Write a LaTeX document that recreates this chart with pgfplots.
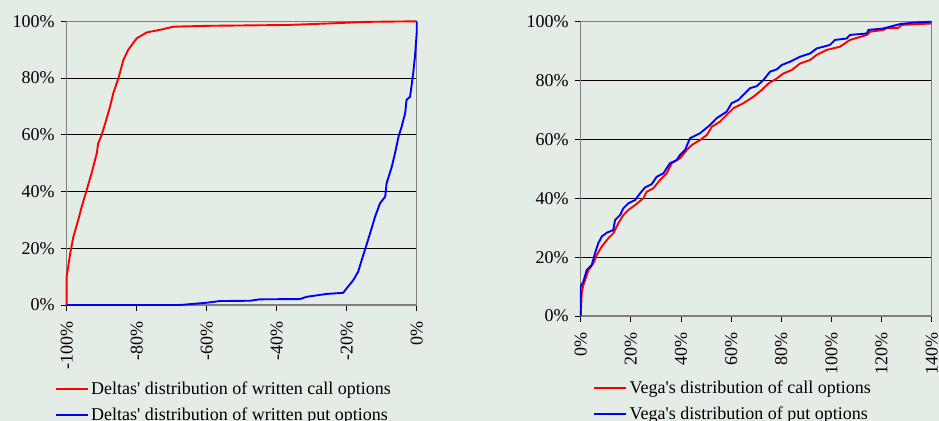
\documentclass[border=0pt]{standalone}
\usepackage{fontspec}
\setmainfont{Liberation Serif}
\usepackage{pgfplots}
\pgfplotsset{compat=1.18}
\definecolor{bg}{RGB}{228,236,230}
\definecolor{framec}{RGB}{128,128,128}
\begin{document}
\fontsize{18bp}{21bp}\selectfont
\begin{tikzpicture}
\useasboundingbox (0bp,0bp) rectangle (939bp,421bp);
\fill[bg] (0bp,0bp) rectangle (939bp,421bp);
\pgfplotsset{
 common/.style={
  scale only axis, clip=false,
  /pgf/number format/assume math mode=true,
  tick label style={font=\fontsize{18bp}{20bp}\selectfont},
  axis line style={draw=framec, line width=1.2bp},
  ymajorgrids, major grid style={black, line width=0.8bp},
  tick align=outside, major tick length=6bp, tick style={black, line width=0.8bp},
  xtick pos=bottom, ytick pos=left,
  ymin=0, ymax=100, ytick={0,20,...,100},
  yticklabel={\pgfmathprintnumber{\tick}\%},
  xticklabel={\pgfmathprintnumber{\tick}\%},
  x tick label style={rotate=90, anchor=east},
  xticklabel shift=4bp,
  legend cell align=left,
  legend image code/.code={\draw[##1, line width=2.2bp] (0bp,0bp) -- (32bp,0bp);},
  legend style={font=\fontsize{18bp}{20bp}\selectfont, draw=none, fill=none, inner sep=0pt,
    nodes={inner sep=2.5bp}, row sep=5.5bp, anchor=north west},
 }
}
\begin{axis}[common, at={(66.7bp,116bp)}, anchor=south west, width=350bp, height=283.7bp,
  xmin=-100, xmax=0, xtick={-100,-80,...,0},
  legend style={at={(axis description cs:-0.0357,-0.2606)}}]
\addplot[red, line width=1.9bp] coordinates {
(-100,0) (-100,10) (-99.0,18.2) (-98.1,24) (-96.7,30) (-95.7,34.7) (-94.3,40.5)
(-92.9,46.4) (-91.4,53.5) (-91,57) (-90,60) (-89,64) (-87.6,70) (-86.7,74.6)
(-85.2,80) (-83.8,86.4) (-82.4,90) (-80,94) (-77.1,96.1) (-73.3,97) (-69.5,98.1)
(-60,98.4) (-37,98.7) (-23.8,99.3) (-14.3,99.8) (0,100)};
\addlegendentry{Deltas\textquotesingle\ distribution of written call options}
\addplot[blue, line width=1.9bp] coordinates {
(-100,0) (-67.6,0) (-60,0.8) (-56.2,1.4) (-47.6,1.5) (-44.8,2) (-33.3,2.1)
(-31.4,2.9) (-25.7,3.9) (-21,4.3) (-20,5.9) (-18.1,8.8) (-16.7,11.8) (-15.7,15.9)
(-14.8,19.4) (-13.3,25.3) (-11.9,31.1) (-10.5,35.8) (-9,38.2) (-8.6,42.9)
(-7.1,48.8) (-6.2,53.5) (-5.2,59.3) (-4.3,62.9) (-3.3,67.6) (-2.9,72.3)
(-1.9,73.4) (-1,81.7) (-0.5,87.5) (0,95.8) (0,100)};
\addlegendentry{Deltas\textquotesingle\ distribution of written put options}
\end{axis}
\begin{axis}[common, at={(580.7bp,105bp)}, anchor=south west, width=351bp, height=294.3bp,
  xmin=0, xmax=140, xtick={0,20,...,140},
  legend style={at={(axis description cs:0.0343,-0.21)}}]
\addplot[red, line width=1.9bp] coordinates {
(0,0) (0.4,7.7) (1.06,10.5) (3.1,15.6) (5.05,17.9) (6.4,20.7) (8.4,23.6) (11.0,26.4)
(13.0,28.1) (15.0,31.5) (17.0,34.3) (19.0,36) (21.7,37.7) (25.0,40) (26.3,42.2)
(29.0,43.4) (31.6,46.2) (34.3,48.5) (36.3,51.9) (39.6,53.6) (42.3,56.4) (44.3,58.1)
(47.6,59.8) (50.3,61.5) (52.3,64.3) (55.5,66) (58.9,68.9) (60.9,70.6) (64.9,72.3)
(68.9,74.5) (72.2,76.8) (74.9,79) (78.2,80.7) (80.8,82.4) (84.2,83.6) (87.5,85.8)
(91.5,87) (94.1,88.7) (98.1,90.4) (103.4,91.5) (107.4,93.8) (114.1,95.5) (115.4,96.6)
(120.7,97.2) (122.0,97.8) (126.6,97.9) (128.0,98.9) (140,99.4)};
\addlegendentry{Vega\textquotesingle s distribution of call options}
\addplot[blue, line width=1.9bp] coordinates {
(0,0) (0,10) (1.06,11.7) (2.4,15.6) (4.4,17.3) (5.7,21.3) (7.0,24.7) (8.4,27)
(10.4,28.3) (13.0,29.2) (13.7,32.6) (15.7,34.3) (17.0,36.6) (19.0,38.3) (21.7,39.4)
(23.7,41.7) (25.7,43.7) (28.3,44.8) (30.3,47.3) (33.0,48.5) (35.6,51.9) (38.3,53)
(39.6,54.7) (41.6,56.4) (43.6,60.4) (47.6,62.1) (51.6,64.9) (54.2,67.2) (58.2,69.4)
(60.2,72.3) (62.9,73.4) (67.5,77.4) (70.2,78.1) (72.9,80.2) (75.5,83) (78.2,83.8)
(80.2,85.3) (83.5,86.4) (87.5,88.1) (91.5,89.2) (94.1,90.9) (99.4,92.1) (101.4,93.8)
(106.1,94.3) (107.4,95.5) (114.1,96) (114.8,97.2) (120.7,97.7) (127.4,99.2)
(132.7,99.7) (140,100)};
\addlegendentry{Vega\textquotesingle s distribution of put options}
\end{axis}
\end{tikzpicture}
\end{document}
